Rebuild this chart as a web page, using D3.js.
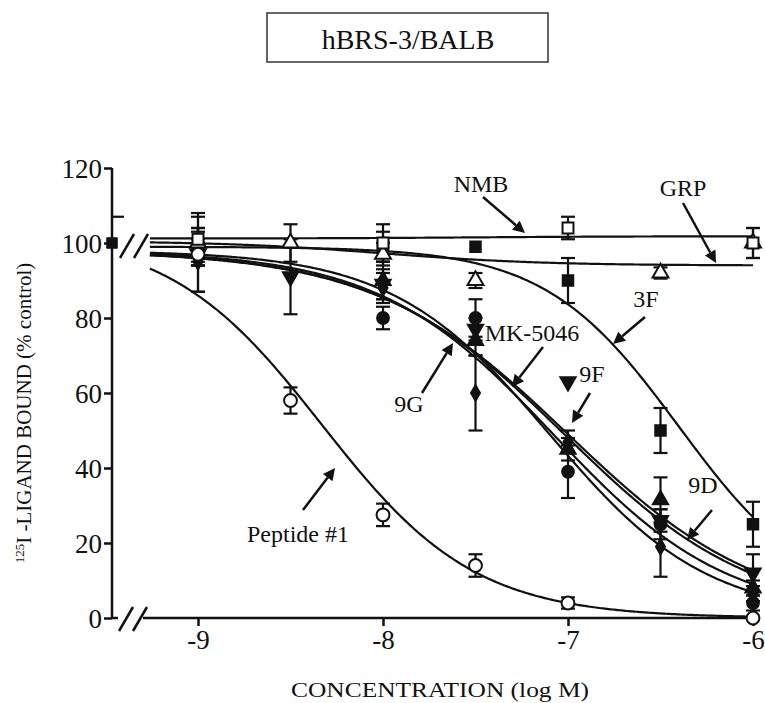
<!DOCTYPE html>
<html><head><meta charset="utf-8">
<script src="https://cdn.jsdelivr.net/npm/d3@7"></script>
<style>
html,body{margin:0;padding:0;background:#fff;}
svg text{font-family:"Liberation Serif","Times New Roman",Times,serif !important;fill:#111;}
</style></head>
<body><svg id="chart" width="765" height="703"></svg>
<script>
// ---------- DATA ----------
const title = "hBRS-3/BALB";
const xTicks = [-9, -8, -7, -6];
const yTicks = [0, 20, 40, 60, 80, 100, 120];
const concentrations = [-9, -8.5, -8, -7.5, -7, -6.5, -6];

const peptide1    = [97, 58, 27.5, 14, 4, null, 0];
const peptide1Err = [3, 3.5, 3, 3, 1.5, null, 0];
const nmb         = [101, null, 100, null, 104, null, 100];
const nmbErr      = [7, null, 5, null, 3, null, 4];
const grp         = [100, 100, 97, 90, null, 92, 100];
const grpErr      = [4, 5, 3, 2, null, 1.5, 4];
const cmp3F       = [99, null, 99, 99, 90, 50, 25];
const cmp3FErr    = [5, null, 4, 0, 6, 6, 6];
const cmp9F       = [97, 91, 89, 77, 63, 26, 12];
const cmp9FErr    = [10, 10, 4, 3, 0, 3, 5];
const cmp9D       = [100, null, 90, 74, 45, 31.5, 8];
const cmp9DErr    = [4, null, 5, 4, 3, 6, 2];
const cmp9G       = [95, null, 88, 60, 47, 19, 6.5];
const cmp9GErr    = [8, null, 4, 10, 3, 8, 2];
const mk5046      = [98, null, 80, 80, 39, 25, 4];
const mk5046Err   = [3, null, 3, 5, 7, 4, 2];
const control = 100, controlErr = 7;

// fitted sigmoid parameters
const curveNames    = ["Peptide #1", "NMB", "GRP", "3F", "9F", "9D", "9G", "MK-5046"];
const curveTop      = [103, 101.2, 100.5, 99, 98, 98, 98, 98];
const curveBottom   = [0, 101.8, 94, 3, 0, 0, 0, 0];
const curveLogEC50  = [-8.33, -7.5, -8.0, -6.4, -7.0, -7.02, -7.08, -7.1];
const curveHill     = [1.05, 1.0, 1.0, 1.2, 0.83, 0.85, 0.92, 1.02];
const curveStart = -9.26, curveEnd = -6.0;

// ---------- LAYOUT ----------
const FONT = '"Liberation Serif","Times New Roman",serif';
const svg = d3.select("#chart");
const x = d3.scaleLinear().domain([-9, -6]).range([198, 753]);
const y = d3.scaleLinear().domain([0, 120]).range([618, 168]);
const axisX0 = 112;

// title box
svg.append("rect").attr("x", 267).attr("y", 13).attr("width", 281).attr("height", 49)
  .attr("fill", "none").attr("stroke", "#333").attr("stroke-width", 1.5);
svg.append("text").attr("x", 408).attr("y", 49).attr("text-anchor", "middle")
  .style("font-family", FONT).style("font-size", "28px").text(title);

// y axis
const yAxis = d3.axisLeft(y).tickValues(yTicks).tickSize(8).tickPadding(2).tickFormat(d => String(d));
const gy = svg.append("g").attr("transform", `translate(${axisX0},0)`).call(yAxis)
  .attr("font-family", null).attr("font-size", null);
gy.select(".domain").attr("d", `M0,${y(120)}V${y(0)}`).attr("stroke", "#111").attr("stroke-width", 2.5);
gy.selectAll(".tick line").attr("stroke", "#111").attr("stroke-width", 2.5);
gy.selectAll(".tick text").style("font-family", FONT).style("font-size", "27px").attr("fill", "#111").attr("dy", "0.34em");

// x axis
const xAxis = d3.axisBottom(x).tickValues(xTicks).tickSize(8).tickPadding(4).tickFormat(d => String(d));
const gx = svg.append("g").attr("transform", `translate(0,${y(0)})`).call(xAxis)
  .attr("font-family", null).attr("font-size", null);
gx.select(".domain").remove();
gx.selectAll(".tick line").attr("stroke", "#111").attr("stroke-width", 2.5);
gx.selectAll(".tick text").style("font-family", FONT).style("font-size", "27px").attr("fill", "#111");
svg.append("line").attr("x1", axisX0).attr("x2", 118).attr("y1", y(0)).attr("y2", y(0)).attr("stroke", "#111").attr("stroke-width", 2.5);
svg.append("line").attr("x1", 143).attr("x2", x(-6)).attr("y1", y(0)).attr("y2", y(0)).attr("stroke", "#111").attr("stroke-width", 2.5);

// break marks
function slashes(cx, cy) {
  [0, 14].forEach(dx => {
    svg.append("line").attr("x1", cx + dx - 7).attr("y1", cy + 13)
      .attr("x2", cx + dx + 7).attr("y2", cy - 11)
      .attr("stroke", "#111").attr("stroke-width", 2.5);
  });
}
slashes(126, y(0));
slashes(127, y(100) + 2);

// axis labels
svg.append("text").attr("x", 440).attr("y", 697).attr("text-anchor", "middle")
  .attr("textLength", 298).attr("lengthAdjust", "spacingAndGlyphs")
  .style("font-family", FONT).style("font-size", "21px").text("CONCENTRATION (log M)");
const yl = svg.append("text").attr("transform", "translate(30,413) rotate(-90)")
  .attr("text-anchor", "middle").style("font-family", FONT).style("font-size", "21px");
yl.append("tspan").style("font-size", "13px").attr("dy", "-0.5em").text("125");
yl.append("tspan").attr("dy", "0.35em").text("I -LIGAND BOUND (% control)");

// ---------- CURVES ----------
const line = d3.line().x(d => x(d[0])).y(d => y(d[1]));
const xs = d3.range(curveStart, curveEnd + 0.0001, 0.01);
curveNames.forEach((n, i) => {
  const pts = xs.map(v => [v, curveBottom[i] + (curveTop[i] - curveBottom[i]) /
    (1 + Math.pow(10, (v - curveLogEC50[i]) * curveHill[i]))]);
  svg.append("path").attr("d", line(pts)).attr("fill", "none")
    .attr("stroke", "#111").attr("stroke-width", 2.2);
});

// ---------- POINTS ----------
const series = [
  {v: cmp3F, e: cmp3FErr, sym: d3.symbolSquare, size: 110, fill: "#111"},
  {v: mk5046, e: mk5046Err, sym: d3.symbolCircle, size: 110, fill: "#111"},
  {v: cmp9D, e: cmp9DErr, sym: d3.symbolTriangle, size: 100, fill: "#111"},
  {v: cmp9F, e: cmp9FErr, sym: d3.symbolTriangle, size: 100, fill: "#111", rot: 180},
  {v: cmp9G, e: cmp9GErr, sym: d3.symbolDiamond, size: 70, fill: "#111"},
  {v: grp, e: grpErr, sym: d3.symbolTriangle, size: 110, fill: "#fff"},
  {v: nmb, e: nmbErr, sym: d3.symbolSquare, size: 120, fill: "#fff"},
  {v: peptide1, e: peptide1Err, sym: d3.symbolCircle, size: 130, fill: "#fff"},
];
const errG = svg.append("g");
const markG = svg.append("g");
series.forEach(s => {
  concentrations.forEach((c, i) => {
    const val = s.v[i];
    if (val == null) return;
    const px = x(c), err = s.e[i] || 0;
    if (err > 0) {
      const t = y(val + err), b = y(val - err);
      errG.append("line").attr("x1", px).attr("x2", px).attr("y1", t).attr("y2", b)
        .attr("stroke", "#111").attr("stroke-width", 2.2);
      [t, b].forEach(yy => errG.append("line").attr("x1", px - 7).attr("x2", px + 7)
        .attr("y1", yy).attr("y2", yy).attr("stroke", "#111").attr("stroke-width", 2.2));
    }
    markG.append("path").attr("d", d3.symbol().type(s.sym).size(s.size)())
      .attr("transform", `translate(${px},${y(val)}) rotate(${s.rot || 0})`)
      .attr("fill", s.fill).attr("stroke", "#111").attr("stroke-width", 2);
  });
});
// control point on the axis
errG.append("line").attr("x1", axisX0).attr("x2", axisX0 + 12)
  .attr("y1", y(control + controlErr)).attr("y2", y(control + controlErr))
  .attr("stroke", "#111").attr("stroke-width", 2.2);
markG.append("path").attr("d", d3.symbol().type(d3.symbolSquare).size(110)())
  .attr("transform", `translate(${axisX0},${y(control)})`).attr("fill", "#111").attr("stroke", "#111");

// ---------- ANNOTATIONS ----------
const notes = [
  {t: "NMB", tx: 481, ty: 192, a: [483, 197, 525, 233]},
  {t: "GRP", tx: 683, ty: 196, a: [683, 203, 716, 263]},
  {t: "3F", tx: 646, ty: 307, a: [645, 317, 613, 344]},
  {t: "MK-5046", tx: 532, ty: 341, a: [543, 347, 512, 387]},
  {t: "9F", tx: 592, ty: 382, a: [590, 393, 572, 423]},
  {t: "9G", tx: 409, ty: 412, a: [422, 393, 453, 343]},
  {t: "9D", tx: 703, ty: 493, a: [712, 510, 687, 540]},
  {t: "Peptide #1", tx: 298, ty: 542, a: [303, 510, 335, 468]},
];
notes.forEach(n => {
  svg.append("text").attr("x", n.tx).attr("y", n.ty).attr("text-anchor", "middle")
    .style("font-family", FONT).style("font-size", "24px").text(n.t);
  const [x1, y1, x2, y2] = n.a;
  const ang = Math.atan2(y2 - y1, x2 - x1);
  const L = 12, W = 6;
  const bx = x2 - L * Math.cos(ang), by = y2 - L * Math.sin(ang);
  svg.append("line").attr("x1", x1).attr("y1", y1).attr("x2", bx).attr("y2", by)
    .attr("stroke", "#111").attr("stroke-width", 2.5);
  const px = -Math.sin(ang) * W, py = Math.cos(ang) * W;
  svg.append("path").attr("d", `M${x2},${y2}L${bx + px},${by + py}L${bx - px},${by - py}Z`).attr("fill", "#111");
});
</script></body></html>
